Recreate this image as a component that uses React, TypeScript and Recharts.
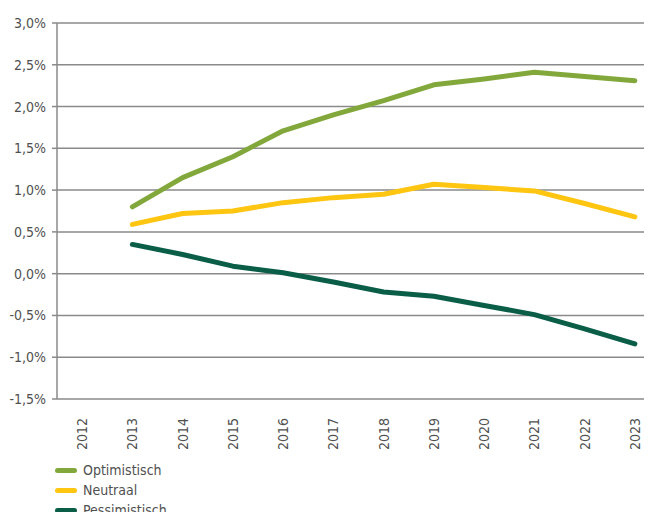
import React from "react";
import { LineChart, Line, XAxis, YAxis, CartesianGrid } from "recharts";

// scenario outlook, yearly % change
const years = ["2012", "2013", "2014", "2015", "2016", "2017", "2018", "2019", "2020", "2021", "2022", "2023"];
const optimistisch = [null, 0.8, 1.15, 1.4, 1.71, 1.9, 2.07, 2.26, 2.33, 2.41, 2.36, 2.31];
const neutraal = [null, 0.59, 0.72, 0.75, 0.85, 0.91, 0.95, 1.07, 1.03, 0.99, 0.84, 0.68];
const pessimistisch = [null, 0.35, 0.23, 0.09, 0.01, -0.1, -0.22, -0.27, -0.38, -0.49, -0.66, -0.84];
const yTicks = [-1.5, -1, -0.5, 0, 0.5, 1, 1.5, 2, 2.5, 3];

const series = [
  { key: "opt", name: "Optimistisch", color: "#82a83c" },
  { key: "neu", name: "Neutraal", color: "#fec511" },
  { key: "pes", name: "Pessimistisch", color: "#0a5e48" },
];

const FONT = "'DejaVu Sans Condensed', 'DejaVu Sans', sans-serif";
const TEXT = "#505050";
const GRID = "#8a8a8a";

const data = years.map((y, i) => ({
  year: y,
  opt: optimistisch[i],
  neu: neutraal[i],
  pes: pessimistisch[i],
}));

const fmt = (v: number) => v.toFixed(1).replace(".", ",") + "%";

const textStyle = { fontFamily: FONT, fontStretch: "condensed" as const };

function YearTick(props: any) {
  const { x, y, payload } = props;
  return (
    <text
      x={x}
      y={y}
      transform={`rotate(-90, ${x}, ${y})`}
      textAnchor="end"
      dominantBaseline="central"
      fill={TEXT}
      fontSize={14}
      style={textStyle}
    >
      {payload.value}
    </text>
  );
}

export default function App() {
  return (
    <div
      style={{
        margin: -8,
        width: 652,
        height: 520,
        overflow: "hidden",
        position: "relative",
        background: "#fff",
      }}
    >
      <LineChart
        width={680}
        height={520}
        data={data}
        margin={{ top: 23, right: 20, left: 0, bottom: 71 }}
      >
        <CartesianGrid vertical={false} stroke={GRID} strokeWidth={1.5} />
        <XAxis
          dataKey="year"
          scale="band"
          interval={0}
          height={50}
          axisLine={false}
          tickLine={false}
          tickMargin={13}
          tick={<YearTick />}
        />
        <YAxis
          width={57}
          domain={[-1.5, 3]}
          ticks={yTicks}
          interval={0}
          tickFormatter={fmt}
          axisLine={{ stroke: GRID, strokeWidth: 1.5 }}
          tickLine={{ stroke: GRID, strokeWidth: 1.5 }}
          tickSize={5}
          tickMargin={6}
          tick={{ fill: TEXT, fontSize: 14, style: textStyle }}
        />
        {series.map((s) => (
          <Line
            key={s.key}
            dataKey={s.key}
            name={s.name}
            stroke={s.color}
            strokeWidth={5}
            strokeLinecap="round"
            strokeLinejoin="round"
            dot={false}
            activeDot={false}
            connectNulls={false}
            isAnimationActive={false}
          />
        ))}
      </LineChart>
      <div
        style={{
          position: "absolute",
          left: 55,
          top: 460,
          fontFamily: FONT,
          fontStretch: "condensed",
          fontSize: 14,
          color: TEXT,
        }}
      >
        {series.map((s) => (
          <div key={s.key} style={{ display: "flex", alignItems: "center", height: 20 }}>
            <span
              style={{
                display: "inline-block",
                width: 22,
                height: 5,
                borderRadius: 3,
                background: s.color,
                marginRight: 6,
              }}
            />
            {s.name}
          </div>
        ))}
      </div>
    </div>
  );
}
